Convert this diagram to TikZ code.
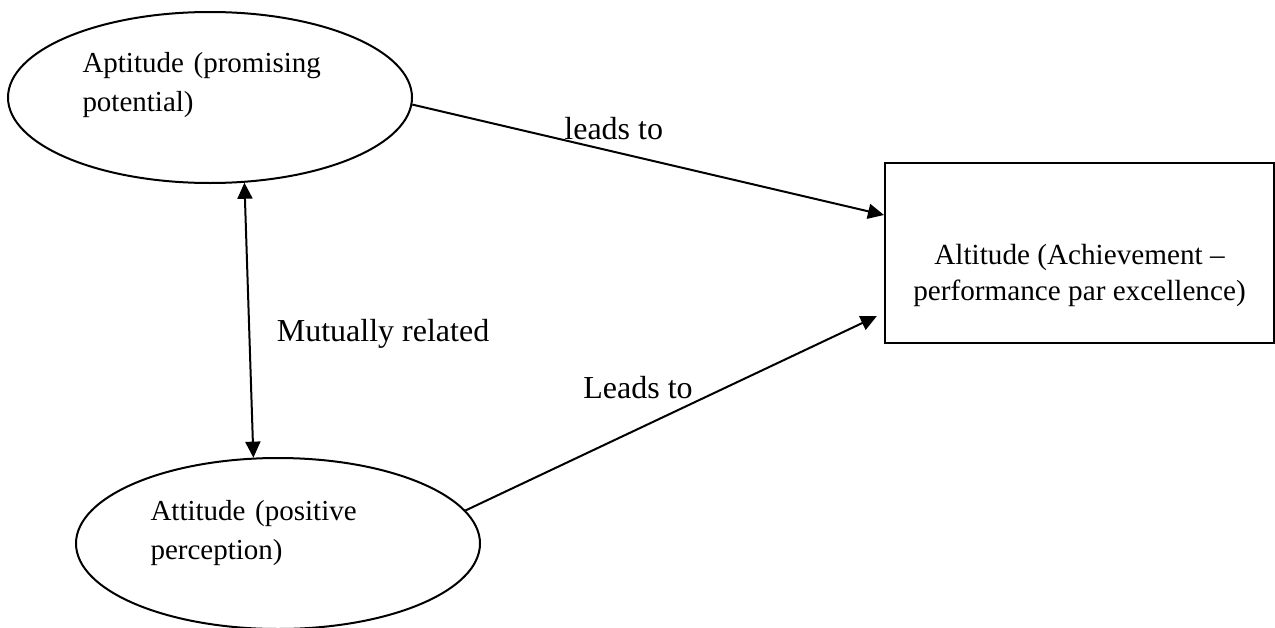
\documentclass[tikz,border=0pt]{standalone}
\usepackage{fontspec}
\setmainfont{Liberation Serif}
\usetikzlibrary{shapes.geometric,arrows.meta,positioning}

\begin{document}
\begin{tikzpicture}[x=0.5pt, y=-0.5pt, line width=1pt, >={Triangle[length=8pt,width=7.5pt]},
    	concept node/.style={ellipse,draw,minimum width=202pt,minimum height=85.5pt,inner sep=0pt},
    	concept text/.style={text width=127.5pt,align=left,inner sep=0pt,font=\fontsize{14.5}{19.5}\selectfont},
    	outcome node/.style={rectangle,draw,minimum width=194.5pt,minimum height=90pt},
    	outcome text/.style={align=center,inner sep=0pt,font=\fontsize{14.6}{18}\selectfont}]
    	
    	\useasboundingbox (0,0) rectangle (1275,627);
    	
    	\node[concept node, label={[concept text, yshift=6pt, name=aptitude text]center:{Aptitude (promising\\potential)}}] (aptitude) at (210,97.5) {};
    	\node[concept node, label={[concept text, yshift=5pt, name=attitude text]center:{Attitude (positive\\perception)}}] (attitude) at (278,543.5) {};
    	\node[outcome node, label={[outcome text, yshift=-11pt, name=altitude text]center:{Altitude (Achievement --\\performance par excellence)}}] (altitude) at (1079.5,253) {};
    	
    	\path[every node/.style={font=\fontsize{16}{19}\selectfont, inner sep=1pt}]
    	(aptitude.-2.7) edge[->] node [pos=0.427, above=4.5pt] {leads to} (altitude.169.5)
    	(attitude.10.9) edge[->, shorten >=4pt] node [pos=0.55, above left] {Leads to} (altitude.-163.1)
    	(aptitude.-68.6) edge[<->] node [pos=0.55, right=12.25pt] {Mutually related} (attitude.106.3);
    	\end{tikzpicture}
\end{document}
